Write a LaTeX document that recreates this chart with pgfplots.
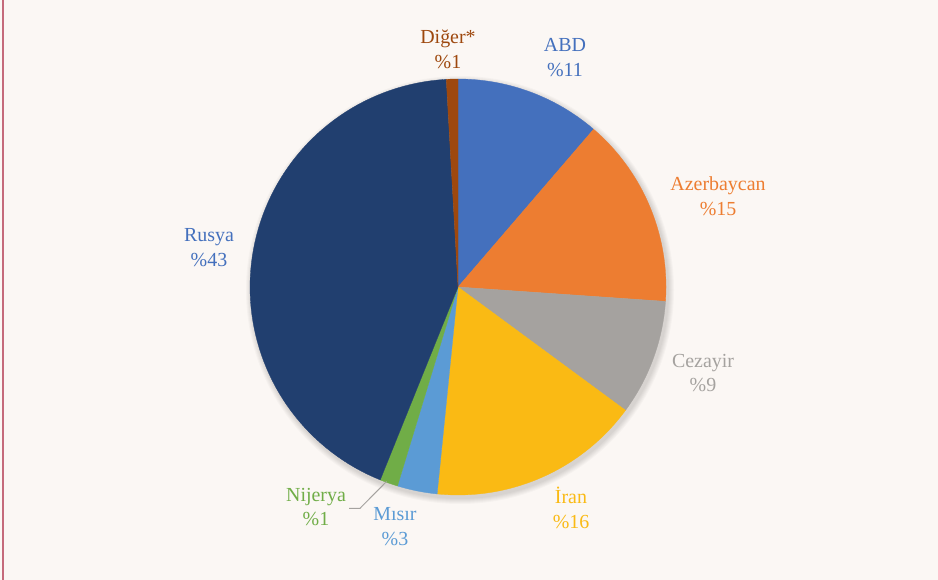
\documentclass[border=0pt]{standalone}
\usepackage{fontspec}
\setmainfont{Liberation Serif}
\usepackage{pgfplots}
\pgfplotsset{compat=1.18}

\definecolor{bg}{HTML}{FBF7F4}
\definecolor{frame}{HTML}{C56A7B}
\definecolor{cABD}{HTML}{4470BD}
\definecolor{cAZE}{HTML}{ED7D31}
\definecolor{cCEZ}{HTML}{A5A29F}
\definecolor{cIRN}{HTML}{FABA14}
\definecolor{cMIS}{HTML}{5B9BD5}
\definecolor{cNIJ}{HTML}{70AD47}
\definecolor{cRUS}{HTML}{213F6F}
\definecolor{cDIG}{HTML}{9E480E}

% pie centre and radius in axis units (1 unit = 1bp)
\def\cx{458}
\def\cy{293}
\def\rr{208}
% #1 = cumulative share at start (%), #2 = at end (%), #3 = colour
\newcommand{\slice}[3]{%
  \addplot[fill=#3, draw=#3, line width=0.3pt, domain=#1:#2, samples=80, variable=\t]
    ({\cx+\rr*sin(3.6*t)}, {\cy+\rr*cos(3.6*t)}) -- (axis cs:\cx,\cy) -- cycle;
}

\begin{document}
\begin{tikzpicture}
\useasboundingbox (0,0) rectangle (938bp,580bp);
\fill[bg] (0,0) rectangle (938bp,580bp);
\fill[frame] (1.6bp,0) rectangle (3.8bp,580bp);
\begin{axis}[
    at={(0,0)}, anchor=south west,
    width=938bp, height=580bp, scale only axis,
    xmin=0, xmax=938, ymin=0, ymax=580,
    hide axis, clip=false,
]
% soft shadow
\pgfplotsinvokeforeach{209,210,211,212,213,214}{
  \fill[black, opacity=0.025] (axis cs:460,290) circle[radius=#1bp];
}
% shares: ABD 11.3, Azerbaycan 14.8, Cezayir 9.0, Iran 16.5,
% Misir 3.1, Nijerya 1.4, Rusya 43.0, Diger 0.9
\slice{0}{11.3}{cABD}
\slice{11.3}{26.1}{cAZE}
\slice{26.1}{35.1}{cCEZ}
\slice{35.1}{51.6}{cIRN}
\slice{51.6}{54.7}{cMIS}
\slice{54.7}{56.1}{cNIJ}
\slice{56.1}{99.1}{cRUS}
\slice{99.1}{100}{cDIG}

\draw[cCEZ, line width=1pt] (axis cs:386.5,98.5) -- (axis cs:360,71.7) -- (axis cs:349,71.7);

\tikzset{lbl/.style={align=center, font=\fontsize{20}{25}\selectfont, inner sep=0pt}}
\node[lbl, text=cDIG] at (axis cs:448,531) {Diğer*\\\%1};
\node[lbl, text=cABD] at (axis cs:565,522) {ABD\\\%11};
\node[lbl, text=cAZE] at (axis cs:718,384) {Azerbaycan\\\%15};
\node[lbl, text=cCEZ] at (axis cs:703,207) {Cezayir\\\%9};
\node[lbl, text=cIRN] at (axis cs:571,72) {İran\\\%16};
\node[lbl, text=cMIS] at (axis cs:395,53) {Mısır\\\%3};
\node[lbl, text=cNIJ] at (axis cs:316,73) {Nijerya\\\%1};
\node[lbl, text=cABD] at (axis cs:209,332) {Rusya\\\%43};
\end{axis}
\end{tikzpicture}
\end{document}
